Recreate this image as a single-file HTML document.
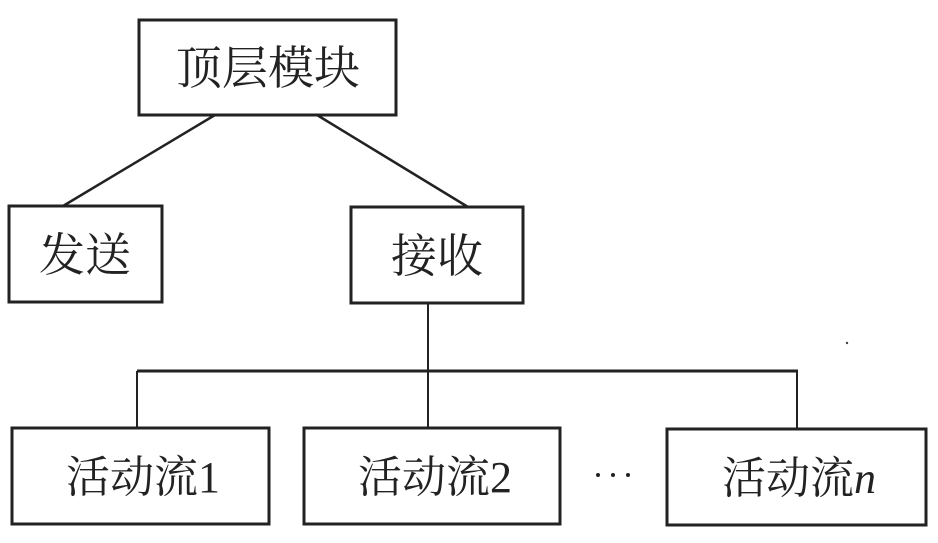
<!DOCTYPE html>
<html><head><meta charset="utf-8"><style>
body{margin:0;background:#fff;}
svg text{font-family:"Liberation Serif","Noto Serif CJK SC",serif;fill:#222;}
</style></head><body>
<svg width="938" height="538" viewBox="0 0 938 538" xmlns="http://www.w3.org/2000/svg">
<g fill="none" stroke="#222" stroke-width="3">
<rect x="139" y="20" width="257" height="95"/>
<rect x="9" y="206" width="153" height="96"/>
<rect x="351" y="207" width="172" height="96"/>
<rect x="12" y="428" width="257" height="96"/>
<rect x="304" y="428" width="256" height="96"/>
<rect x="667" y="429" width="259" height="96"/>
<line x1="215" y1="115" x2="63" y2="206" stroke-width="2.5"/>
<line x1="317" y1="115" x2="468" y2="207" stroke-width="2.5"/>
<line x1="428" y1="303" x2="428" y2="428" stroke-width="2"/>
<line x1="137" y1="371" x2="798" y2="371"/>
<line x1="137" y1="371" x2="137" y2="428" stroke-width="2"/>
<line x1="797" y1="371" x2="797" y2="429" stroke-width="2"/>
</g>
<text x="268" y="84" font-size="46" text-anchor="middle">顶层模块</text>
<text x="85" y="271" font-size="46" text-anchor="middle">发送</text>
<text x="437" y="272" font-size="46" text-anchor="middle">接收</text>
<text x="143" y="492" font-size="44" text-anchor="middle">活动流1</text>
<text x="435" y="492" font-size="44" text-anchor="middle">活动流2</text>
<text x="799" y="493" font-size="44" text-anchor="middle">活动流<tspan font-style="italic">n</tspan></text>
<g fill="#222"><circle cx="598" cy="475" r="2"/><circle cx="613" cy="475" r="2"/><circle cx="628" cy="475" r="2"/></g>
<circle cx="847" cy="343" r="1.2" fill="#444"/>
</svg>
</body></html>
